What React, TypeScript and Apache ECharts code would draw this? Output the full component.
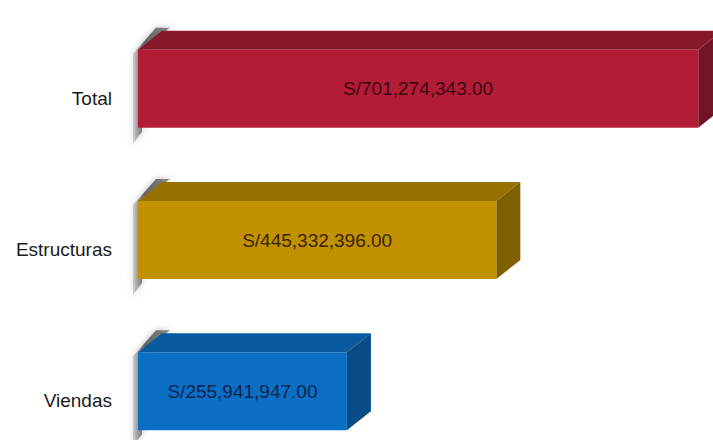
import React, { useEffect, useRef } from "react";
import * as echarts from "echarts";

const categories = ["Total", "Estructuras", "Viendas"];
const values = [701274343.0, 445332396.0, 255941947.0];

const frontColors = ["#B21C35", "#C29100", "#0B6FC3"];
const topColors = ["#861829", "#967100", "#095A9E"];
const sideColors = ["#721424", "#7E6000", "#084B85"];
const labelColors = ["#3a0710", "#3a2400", "#0b2350"];

function fmt(v: number): string {
  return "S/" + v.toLocaleString("en-US", { minimumFractionDigits: 2, maximumFractionDigits: 2 });
}

export default function App() {
  const ref = useRef<HTMLDivElement>(null);
  useEffect(() => {
    if (!ref.current) return;
    const chart = echarts.init(ref.current, undefined, { renderer: "svg" });
    const data = values.map((v, i) => [v, i]);
    chart.setOption({
      animation: false,
      backgroundColor: "#ffffff",
      grid: { left: 145, right: 0, top: 13, bottom: 0, containLabel: false },
      xAxis: {
        type: "value",
        min: 0,
        max: 720000000,
        show: false,
      },
      yAxis: {
        type: "category",
        data: categories,
        inverse: true,
        axisLine: { show: false },
        axisTick: { show: false },
        splitLine: { show: false },
        axisLabel: {
          margin: 33,
          fontFamily: "Liberation Sans, Arial, sans-serif",
          fontSize: 19,
          lineHeight: 19,
          color: "#1a1a1a",
          verticalAlign: "top",
        },
      },
      series: [
        {
          type: "custom",
          encode: { x: 0, y: 1 },
          data,
          renderItem: (params: any, api: any) => {
            const idx = api.value(1) as number;
            const val = api.value(0) as number;
            const end = api.coord([val, idx]);
            const start = api.coord([0, idx]);
            const h = 78;
            const dx = 24;
            const dy = 19;
            const x0 = start[0] - 7;
            const x1 = end[0];
            const yT = end[1] - h / 2;
            const yB = end[1] + h / 2;
            return {
              type: "group",
              children: [
                {
                  type: "polygon",
                  shape: {
                    points: [
                      [x0 - 5, yB + 16],
                      [x0 - 5, yT + 4],
                      [x0 + dx - 6, yT - dy - 3],
                      [x0 + dx + 8, yT - dy - 3],
                      [x0 + 4, yT],
                      [x0 + 4, yB + 4],
                    ],
                  },
                  style: {
                    fill: {
                      type: "linear",
                      x: 0,
                      y: 0,
                      x2: 1,
                      y2: 0,
                      colorStops: [
                        { offset: 0, color: "rgba(130,130,130,0.3)" },
                        { offset: 0.3, color: "rgba(80,80,80,0.85)" },
                        { offset: 1, color: "rgba(100,100,100,0.7)" },
                      ],
                    },
                    shadowBlur: 6,
                    shadowColor: "rgba(100,100,100,0.6)",
                  },
                },
                {
                  type: "polygon",
                  shape: {
                    points: [
                      [x0, yT],
                      [x0 + dx, yT - dy],
                      [x1 + dx, yT - dy],
                      [x1, yT],
                    ],
                  },
                  style: { fill: topColors[idx] },
                },
                {
                  type: "polygon",
                  shape: {
                    points: [
                      [x1, yT],
                      [x1 + dx, yT - dy],
                      [x1 + dx, yB - dy],
                      [x1, yB],
                    ],
                  },
                  style: { fill: sideColors[idx] },
                },
                {
                  type: "rect",
                  shape: { x: x0, y: yT, width: x1 - x0, height: h },
                  style: { fill: frontColors[idx] },
                },
                {
                  type: "text",
                  x: (x0 + x1) / 2,
                  y: end[1],
                  style: {
                    text: fmt(val),
                    align: "center",
                    verticalAlign: "middle",
                    fontFamily: "Liberation Sans, Arial, sans-serif",
                    fontSize: 19,
                    fill: labelColors[idx],
                  },
                },
              ],
            };
          },
        },
      ],
    });
    return () => chart.dispose();
  }, []);
  return (
    <div
      ref={ref}
      style={{ position: "fixed", left: 0, top: 0, width: 713, height: 467 }}
    />
  );
}
